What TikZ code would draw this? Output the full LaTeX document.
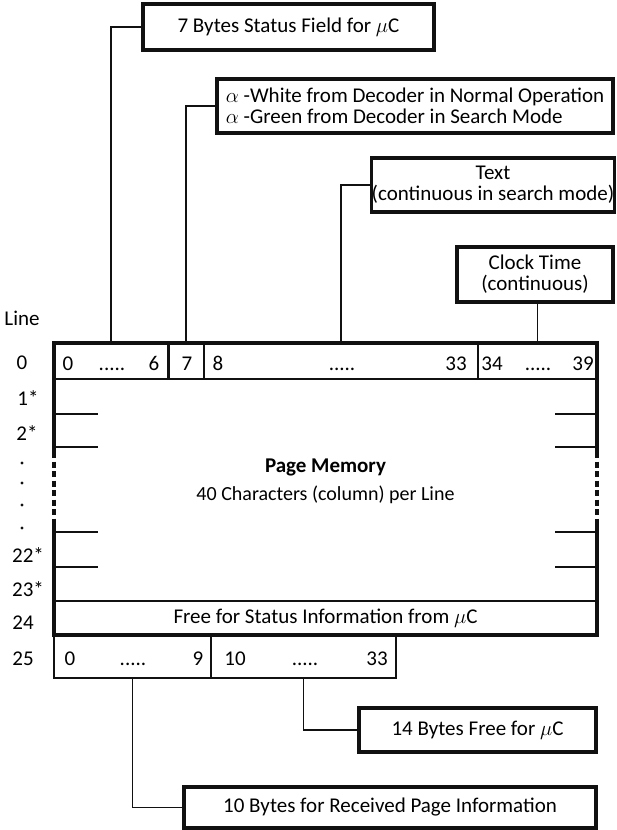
\documentclass[tikz,border=0pt]{standalone}
\usepackage{fontspec}
\setmainfont{Carlito}
\usepackage{tikz}
\usetikzlibrary{positioning}
\definecolor{inkBlack}{HTML}{111111}
\newcommand{\memfont}{\fontsize{21}{21}\selectfont}
\newcommand{\celldots}{.{}.{}.{}.{}.}
\tikzset{
  callout/.style={rectangle,draw=inkBlack,line width=3.2pt,fill=white,
    inner sep=0pt,align=center,font=\memfont},
  cell/.style={rectangle,draw=inkBlack,line width=1.2pt,inner sep=0pt,
    font=\memfont},
  celltext/.style={anchor=base,inner sep=0pt,font=\memfont},
  conn/.style={draw=inkBlack,line width=1.8pt},
  frame/.style={draw=inkBlack,line width=3.4pt},
  stub/.style={draw=inkBlack,line width=1.8pt},
  rowlab/.style={inner sep=0pt,font=\memfont}
}

\begin{document}
\begin{tikzpicture}[x=1pt,y=-1pt]
\useasboundingbox (0,0) rectangle (616,830);

% callout boxes
\node[callout, minimum width=291pt, minimum height=46pt] (status) at (288.5,27) {7 Bytes Status Field for $\mu$C};
\node[callout, minimum width=396pt, minimum height=54pt, align=left] (alpha) at (415,106)
  {$\alpha$ -White from Decoder in Normal Operation\\ $\alpha$ -Green from Decoder in Search Mode};
\node[callout, minimum width=240pt, minimum height=54pt] (textbox) at (493,185) {Text\\(continuous in search mode)};
\node[callout, minimum width=156pt, minimum height=55pt] (clock) at (535,274.5) {Clock Time\\(continuous)};
\node[callout, minimum width=237pt, minimum height=44pt] (free14) at (477.5,730) {14 Bytes Free for $\mu$C};
\node[callout, minimum width=412pt, minimum height=41pt] (recv) at (390,807.5) {10 Bytes for Received Page Information};

% line 0
\node[cell, minimum width=114pt, minimum height=36pt] (r0a) at (111,361) {};
\node[cell, minimum width=36pt, minimum height=36pt] (r0b) at (186,361) {};
\node[cell, minimum width=274pt, minimum height=36pt] (r0c) at (341,361) {};
\node[cell, minimum width=119pt, minimum height=36pt] (r0d) at (537.5,361) {};
\draw[conn] (r0a.north east) -- (r0a.south east);
\foreach \t/\x in {0/68, \celldots/112, 6/154, 7/187, 8/218, \celldots/342, 33/456, 34/492, \celldots/538, 39/583}
  \node[celltext] at (\x,370) {\t};

% page memory body
\node[font=\memfont\bfseries] (mem) at (325.5,467) {Page Memory};
\node[font=\fontsize{20}{20}\selectfont, below=3pt of mem] (memsub) {40 Characters (column) per Line};

% line 24
\node[cell, minimum width=543pt, minimum height=34pt] (r24) at (325.5,618) {Free for Status Information from $\mu$C};

% line 25
\node[cell, minimum width=157pt, minimum height=43pt] (r25a) at (132.5,656.5) {};
\node[cell, minimum width=185pt, minimum height=43pt] (r25b) at (303.5,656.5) {};
\foreach \t/\x in {0/70, \celldots/133, 9/198, 10/235, \celldots/305, 33/377}
  \node[celltext] at (\x,665) {\t};

% outer frame of the memory
\draw[frame] (54,452) -- (54,343) -- (597,343) -- (597,452);
\draw[frame] (54,522) -- (54,635) -- (597,635) -- (597,522);
\draw[frame, dash pattern=on 6pt off 3.5pt] (54,452) -- (54,522);
\draw[frame, dash pattern=on 6pt off 3.5pt] (597,452) -- (597,522);
\foreach \y in {414,447,532,567} {
  \draw[stub] (54,\y) -- (98,\y);
  \draw[stub] (555,\y) -- (597,\y);
}

% line numbers
\node[rowlab] at (22,318) {Line};
\foreach \t/\x/\y in {0/22/363, 1*/28/398, 2*/27/433, 22*/28/555, 23*/28/589, 24/23/623, 25/23/659}
  \node[rowlab] at (\x,\y) {\t};
\foreach \y in {463,483,505,528}
  \fill[inkBlack] (22,\y) circle (1.6pt);

% connectors
\draw[conn] (status.west) -| (r0a.north);
\draw[conn] (alpha.west) -| (r0b.north);
\draw[conn] (textbox.west) -| (r0c.north);
\draw[conn] (r0d.north) -- (r0d.north |- clock.south);
\draw[conn] (r25b.south) |- (free14.west);
\draw[conn] (r25a.south) |- (recv.west);
\end{tikzpicture}
\end{document}
